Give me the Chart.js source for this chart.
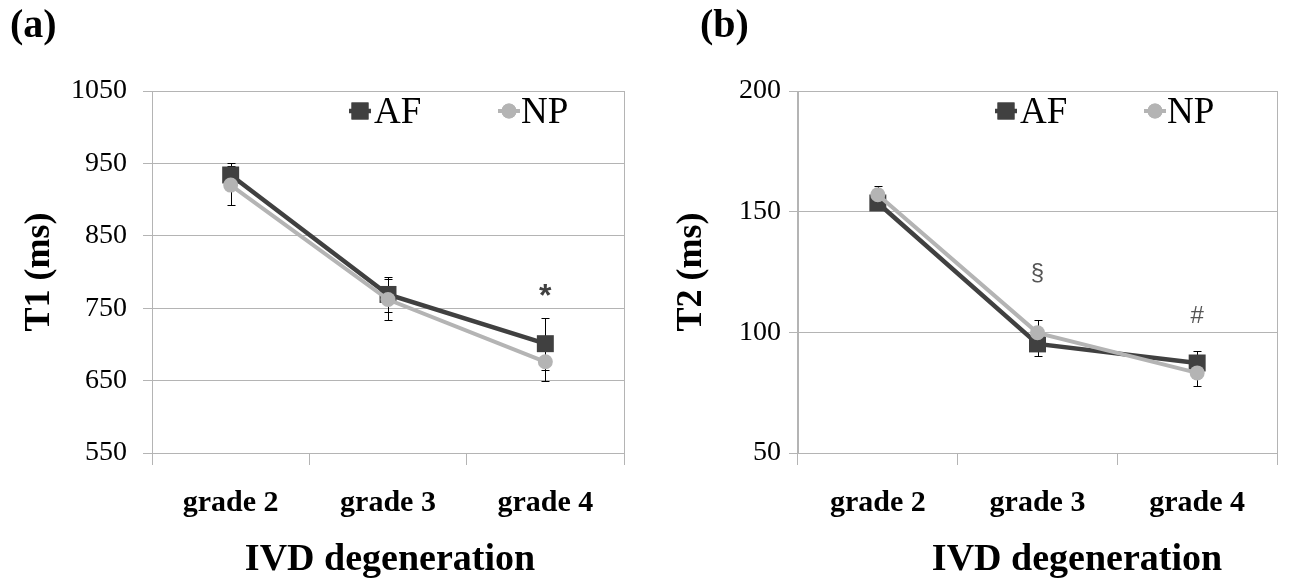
<!DOCTYPE html>
<html><head><meta charset="utf-8">
<script src="https://cdn.jsdelivr.net/npm/chart.js@4.4.1/dist/chart.umd.min.js"></script>
<style>
html,body{margin:0;padding:0;background:#fff;}
#wrap{position:relative;width:1293px;height:585px;background:#fff;}
canvas{position:absolute;top:0;}
</style>
</head><body>
<div id="wrap">
<canvas id="ca" width="646" height="585" style="left:0"></canvas>
<canvas id="cb" width="647" height="585" style="left:646px"></canvas>
</div>
<script>
// ---- data ----
const categories = ['grade 2', 'grade 3', 'grade 4'];
const seriesNames = ['AF', 'NP'];
const t1AF    = [934, 769, 701];
const t1AFerr = [17, 24, 36];
const t1NP    = [920, 762, 676];
const t1NPerr = [27, 28, 26];
const t2AF    = [153.6, 95.2, 87.3];
const t2AFerr = [2.5, 5, 5];
const t2NP    = [157, 99.8, 83.2];
const t2NPerr = [3.6, 5.3, 5.6];
const t1Ticks = [550, 650, 750, 850, 950, 1050];
const t2Ticks = [50, 100, 150, 200];
const t1Marks = ['', '', '*'];
const t1MarkValues = [null, null, 753];
const t2Marks = ['', '§', '#'];
const t2MarkValues = [null, 121.7, 103.9];

const SERIF = '"Liberation Serif", "Times New Roman", serif';
const SANS = '"Liberation Sans", Arial, sans-serif';
const AF_COLOR = '#404040';
const NP_COLOR = '#b4b4b4';
const GRID = '#b4b4b4';

const errorBars = {
  id: 'errorBars',
  beforeDatasetsDraw(chart) {
    const ctx = chart.ctx, y = chart.scales.y;
    ctx.save();
    ctx.strokeStyle = '#000';
    ctx.lineWidth = 1;
    chart.data.datasets.forEach((ds, i) => {
      const meta = chart.getDatasetMeta(i);
      meta.data.forEach((pt, j) => {
        const e = ds.errors[j];
        const v = ds.data[j];
        const yt = Math.round(y.getPixelForValue(v + e)) + 0.5;
        const yb = Math.round(y.getPixelForValue(v - e)) + 0.5;
        const x = Math.round(pt.x) + 0.5;
        ctx.beginPath();
        ctx.moveTo(x, yt); ctx.lineTo(x, yb);
        ctx.moveTo(x - 4, yt); ctx.lineTo(x + 4, yt);
        ctx.moveTo(x - 4, yb); ctx.lineTo(x + 4, yb);
        ctx.stroke();
      });
    });
    ctx.restore();
  }
};

const decorations = {
  id: 'decorations',
  afterDraw(chart, args, opts) {
    const ctx = chart.ctx, ca = chart.chartArea;
    const xs = chart.scales.x, ys = chart.scales.y;
    ctx.save();
    // right border of plot area
    ctx.strokeStyle = GRID; ctx.lineWidth = 1;
    ctx.beginPath();
    ctx.moveTo(Math.round(ca.right) + 0.5, ca.top);
    ctx.lineTo(Math.round(ca.right) + 0.5, ca.bottom + 12);
    ctx.stroke();
    // legend
    const items = [
      {name: seriesNames[0], color: AF_COLOR, style: 'rect', r: 12, mx: ca.left + 208, tx: ca.left + 222, lw: 4.5},
      {name: seriesNames[1], color: NP_COLOR, style: 'circle', r: 7.5, mx: ca.left + 357, tx: ca.left + 369, lw: 4}
    ];
    const ly = 111;
    items.forEach(it => {
      ctx.strokeStyle = it.color; ctx.lineWidth = it.lw;
      ctx.beginPath(); ctx.moveTo(it.mx - 11, ly); ctx.lineTo(it.mx + 11, ly); ctx.stroke();
      ctx.fillStyle = it.color;
      Chart.helpers.drawPoint(ctx, {pointStyle: it.style, radius: it.r, borderWidth: 0, rotation: 0}, it.mx, ly);
      ctx.fill();
      ctx.fillStyle = '#000';
      ctx.font = '37px ' + SERIF;
      ctx.textAlign = 'left'; ctx.textBaseline = 'middle';
      ctx.fillText(it.name, it.tx, ly + 2);
    });
    // significance marks
    opts.marks.forEach((m, j) => {
      if (!m) return;
      ctx.fillStyle = opts.markColor;
      ctx.font = opts.markFont;
      ctx.textAlign = 'center'; ctx.textBaseline = 'alphabetic';
      ctx.fillText(m, xs.getPixelForValue(j), ys.getPixelForValue(opts.markValues[j]));
    });
    // x axis title
    ctx.fillStyle = '#000';
    ctx.font = 'bold 38px ' + SERIF;
    ctx.textAlign = 'center'; ctx.textBaseline = 'middle';
    ctx.fillText('IVD degeneration', opts.xTitleX, 560);
    // panel label
    ctx.font = 'bold 40px ' + SERIF;
    ctx.textAlign = 'left';
    ctx.fillText(opts.panel, opts.panelX, 27);
    ctx.restore();
  }
};

function makeChart(id, cfg) {
  const canvas = document.getElementById(id);
  const H = 585;
  return new Chart(canvas, {
    type: 'line',
    data: {
      labels: categories,
      datasets: [
        {label: seriesNames[0], data: cfg.af, errors: cfg.afErr, borderColor: AF_COLOR, backgroundColor: AF_COLOR,
         borderWidth: 4.5, pointStyle: 'rect', pointRadius: 12, pointBorderWidth: 0, tension: 0, order: 1},
        {label: seriesNames[1], data: cfg.np, errors: cfg.npErr, borderColor: NP_COLOR, backgroundColor: NP_COLOR,
         borderWidth: 4, pointStyle: 'circle', pointRadius: 7.5, pointBorderWidth: 0, tension: 0, order: 0}
      ]
    },
    options: {
      responsive: false,
      devicePixelRatio: 1,
      animation: false,
      layout: {padding: {left: 0, top: 91, right: cfg.padRight, bottom: 0}},
      plugins: {
        legend: {display: false},
        tooltip: {enabled: false},
        decorations: {marks: cfg.marks, markValues: cfg.markValues, markFont: cfg.markFont, markColor: cfg.markColor,
                      xTitleX: cfg.xTitleX, panel: cfg.panel, panelX: cfg.panelX}
      },
      scales: {
        x: {
          type: 'category',
          offset: true,
          grid: {offset: true, drawOnChartArea: true, drawTicks: true, tickLength: 12, tickColor: GRID,
                 color: (c) => (c.index === 0 || c.index === categories.length) ? GRID : 'rgba(0,0,0,0)', lineWidth: 1},
          border: {display: true, color: GRID},
          ticks: {font: {family: SERIF, size: 30, weight: 'bold'}, color: '#000', padding: 20, maxRotation: 0},
          afterFit: (s) => { s.height = H - 453; }
        },
        y: {
          min: cfg.min, max: cfg.max,
          afterBuildTicks: (s) => { s.ticks = cfg.ticks.map(v => ({value: v})); },
          grid: {color: GRID, tickLength: 9, tickColor: GRID, lineWidth: 1},
          border: {display: true, color: GRID},
          ticks: {font: {family: SERIF, size: 28}, color: '#000', padding: cfg.tickPad,
                  callback: (v) => String(v)},
          title: {display: true, text: cfg.yTitle, font: {family: SERIF, size: 36, weight: 'bold'}, color: '#000',
                  padding: {top: cfg.yTitlePad, bottom: 0}},
          afterFit: (s) => { s.width = 152; }
        }
      }
    },
    plugins: [errorBars, decorations]
  });
}

makeChart('ca', {af: t1AF, afErr: t1AFerr, np: t1NP, npErr: t1NPerr, min: 550, max: 1050, ticks: t1Ticks,
  padRight: 22, tickPad: 16, yTitle: 'T1 (ms)', yTitlePad: 18, marks: t1Marks, markValues: t1MarkValues,
  markFont: 'bold 32px ' + SANS, markColor: '#404040', xTitleX: 390, panel: '(a)', panelX: 10});
makeChart('cb', {af: t2AF, afErr: t2AFerr, np: t2NP, npErr: t2NPerr, min: 50, max: 200, ticks: t2Ticks,
  padRight: 16, tickPad: 8, yTitle: 'T2 (ms)', yTitlePad: 24, marks: t2Marks, markValues: t2MarkValues,
  markFont: '24px ' + SANS, markColor: '#555', xTitleX: 431, panel: '(b)', panelX: 54});
</script>
</body></html>
